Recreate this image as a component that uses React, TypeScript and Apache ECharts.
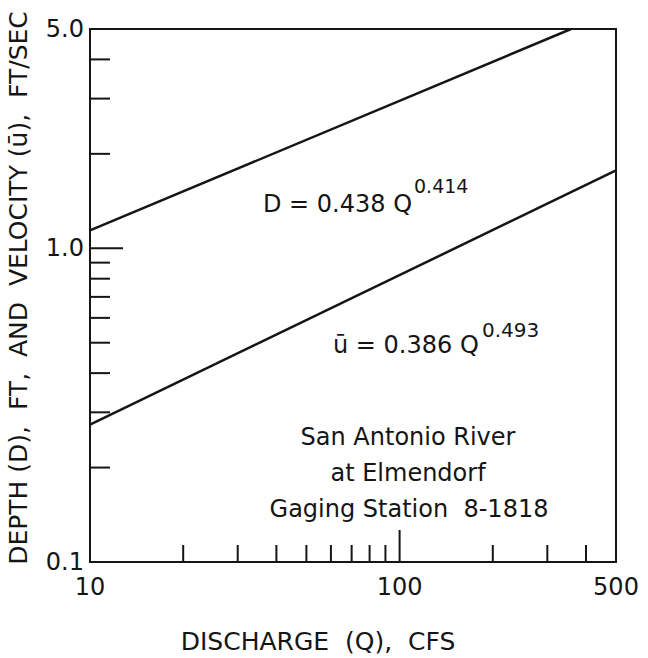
import React, { useEffect, useRef } from "react";
import * as echarts from "echarts";

// ---- data ----
const xTickLabels = [10, 100, 500];
const yTickLabels = [0.1, 1.0, 5.0];
const xMinorTicks = [20, 30, 40, 50, 60, 70, 80, 90, 200, 300, 400];
const xMajorTicks = [100];
const yMinorTicks = [0.2, 0.3, 0.4, 0.5, 0.6, 0.7, 0.8, 0.9, 2, 3, 4];
const yMajorTicks = [1];
const depthQ = [10, 358];
const depthD = [1.14, 5.0];
const velocityQ = [10, 500];
const velocityU = [0.274, 1.77];

const xMin = 10;
const xMax = 500;
const yMin = 0.1;
const yMax = 5.0;

const INK = "#151515";
const FONT = "DejaVu Sans";

export default function App() {
  const ref = useRef<HTMLDivElement>(null);

  useEffect(() => {
    document.body.style.margin = "0";
    const chart = echarts.init(ref.current!, null, { renderer: "svg" });

    const nearest = (arr: number[], v: number) =>
      arr.reduce((a, b) => (Math.abs(Math.log(b) - Math.log(v)) < Math.abs(Math.log(a) - Math.log(v)) ? b : a));

    const option: any = {
      animation: false,
      backgroundColor: "#ffffff",
      grid: {
        left: 90,
        top: 29,
        width: 526,
        height: 533,
        show: true,
        borderColor: INK,
        borderWidth: 2,
        containLabel: false,
      },
      xAxis: {
        type: "log",
        logBase: 10,
        min: xMin,
        max: xMax,
        axisLine: { show: true, lineStyle: { color: INK, width: 2 } },
        axisTick: { show: false },
        splitLine: { show: false },
        minorTick: { show: false },
        axisLabel: {
          show: true,
          showMinLabel: true,
          showMaxLabel: true,
          margin: 13,
          color: INK,
          fontFamily: FONT,
          fontSize: 24,
          formatter: (v: number) => String(nearest(xTickLabels, v)),
        },
      },
      yAxis: {
        type: "log",
        logBase: 10,
        min: yMin,
        max: yMax,
        axisLine: { show: true, lineStyle: { color: INK, width: 2 } },
        axisTick: { show: false },
        splitLine: { show: false },
        minorTick: { show: false },
        axisLabel: {
          show: true,
          showMinLabel: true,
          showMaxLabel: true,
          margin: 6,
          color: INK,
          fontFamily: FONT,
          fontSize: 24,
          formatter: (v: number) => nearest(yTickLabels, v).toFixed(1),
        },
      },
      series: [
        {
          type: "line",
          data: depthQ.map((q, i) => [q, depthD[i]]),
          symbol: "none",
          lineStyle: { color: INK, width: 2.5 },
          clip: true,
        },
        {
          type: "line",
          data: velocityQ.map((q, i) => [q, velocityU[i]]),
          symbol: "none",
          lineStyle: { color: INK, width: 2.5 },
          clip: true,
        },
        {
          type: "custom",
          clip: false,
          silent: true,
          data: [...xMinorTicks, ...xMajorTicks].map((v) => [v, yMin]),
          renderItem: (params: any, api: any) => {
            const v = api.value(0);
            const p = api.coord([v, yMin]);
            const len = xMajorTicks.includes(v) ? 32 : 17;
            return {
              type: "line",
              shape: { x1: p[0], y1: p[1], x2: p[0], y2: p[1] - len },
              style: { stroke: INK, lineWidth: 2 },
            };
          },
        },
        {
          type: "custom",
          clip: false,
          silent: true,
          data: [...yMinorTicks, ...yMajorTicks].map((v) => [xMin, v]),
          renderItem: (params: any, api: any) => {
            const v = api.value(1);
            const p = api.coord([xMin, v]);
            const len = yMajorTicks.includes(v) ? 33 : 20;
            return {
              type: "line",
              shape: { x1: p[0], y1: p[1], x2: p[0] + len, y2: p[1] },
              style: { stroke: INK, lineWidth: 2 },
            };
          },
        },
      ],
      graphic: [
        {
          type: "text",
          x: 18,
          y: 288,
          rotation: Math.PI / 2,
          style: {
            text: "DEPTH (D),  FT,  AND  VELOCITY (ū),  FT/SEC",
            fill: INK,
            font: `25px "${FONT}"`,
            align: "center",
            verticalAlign: "middle",
          },
        },
        {
          type: "text",
          x: 318,
          y: 641,
          style: {
            text: "DISCHARGE  (Q),  CFS",
            fill: INK,
            font: `25px "${FONT}"`,
            align: "center",
            verticalAlign: "middle",
          },
        },
        {
          type: "text",
          x: 263,
          y: 204,
          style: { text: "D = 0.438 Q", fill: INK, font: `24px "${FONT}"`, align: "left", verticalAlign: "middle" },
        },
        {
          type: "text",
          x: 414,
          y: 186,
          style: { text: "0.414", fill: INK, font: `19px "${FONT}"`, align: "left", verticalAlign: "middle" },
        },
        {
          type: "text",
          x: 333,
          y: 345,
          style: { text: "ū = 0.386 Q", fill: INK, font: `24px "${FONT}"`, align: "left", verticalAlign: "middle" },
        },
        {
          type: "text",
          x: 482,
          y: 330,
          style: { text: "0.493", fill: INK, font: `20px "${FONT}"`, align: "left", verticalAlign: "middle" },
        },
        {
          type: "text",
          x: 408,
          y: 437,
          style: { text: "San Antonio River", fill: INK, font: `24px "${FONT}"`, align: "center", verticalAlign: "middle" },
        },
        {
          type: "text",
          x: 408,
          y: 473,
          style: { text: "at Elmendorf", fill: INK, font: `24px "${FONT}"`, align: "center", verticalAlign: "middle" },
        },
        {
          type: "text",
          x: 409,
          y: 509,
          style: { text: "Gaging Station  8-1818", fill: INK, font: `24px "${FONT}"`, align: "center", verticalAlign: "middle" },
        },
      ],
    };

    chart.setOption(option);
    return () => chart.dispose();
  }, []);

  return (
    <div
      ref={ref}
      style={{ position: "absolute", left: 0, top: 0, width: 648, height: 658, background: "#fff" }}
    />
  );
}
